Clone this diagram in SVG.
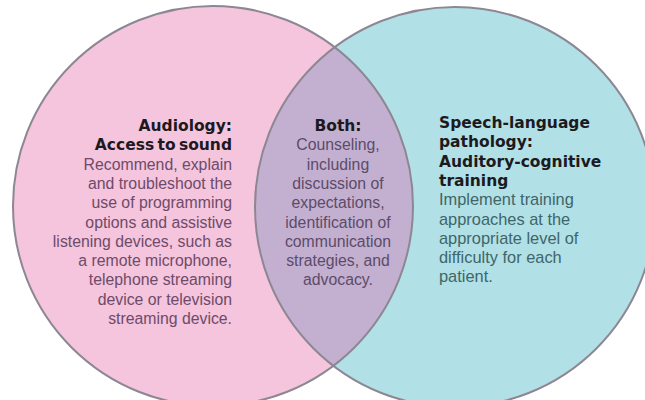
<svg xmlns="http://www.w3.org/2000/svg" width="645" height="400" viewBox="0 0 645 400">
  <style>
    .ring { fill: none; stroke: #8c8792; stroke-width: 2; }
    .head { font-family: "DejaVu Sans", "Liberation Sans", sans-serif; font-weight: bold; font-size: 15.5px; fill: #1c1a20; word-spacing: -2px; }
    .body { font-family: "Liberation Sans", Arial, sans-serif; font-size: 15.8px; }
    .left .body { fill: #6d4b69; }
    .mid .body { fill: #5c4b6a; }
    .right .body { fill: #3f6569; font-size: 16.4px; }
  </style>
  <defs>
    <clipPath id="leftDisc">
      <circle cx="213" cy="206" r="200"/>
    </clipPath>
  </defs>

  <rect width="645" height="400" fill="#ffffff"/>

  <!-- discs -->
  <g id="audiology-disc">
    <circle cx="213" cy="206" r="200" fill="#f5c4dd"/>
  </g>
  <g id="slp-disc">
    <circle cx="455" cy="207" r="200" fill="#b1e0e6"/>
  </g>
  <g id="overlap">
    <circle cx="455" cy="207" r="200" fill="#c3b0d0" clip-path="url(#leftDisc)"/>
  </g>

  <!-- outlines -->
  <g id="outlines">
    <circle class="ring" cx="213" cy="206" r="200"/>
    <circle class="ring" cx="455" cy="207" r="200"/>
  </g>

  <!-- Audiology -->
  <g id="audiology" class="left" text-anchor="end">
    <text class="head" x="232" y="131">Audiology:</text>
    <text class="head" x="232" y="150.3">Access to sound</text>
    <text class="body" x="232" y="169.6">Recommend, explain</text>
    <text class="body" x="232" y="188.9">and troubleshoot the</text>
    <text class="body" x="232" y="208.2">use of programming</text>
    <text class="body" x="232" y="227.5">options and assistive</text>
    <text class="body" x="232" y="246.8">listening devices, such as</text>
    <text class="body" x="232" y="266.1">a remote microphone,</text>
    <text class="body" x="232" y="285.4">telephone streaming</text>
    <text class="body" x="232" y="304.7">device or television</text>
    <text class="body" x="232" y="324">streaming device.</text>
  </g>

  <!-- Both -->
  <g id="both" class="mid" text-anchor="middle">
    <text class="head" x="338" y="131">Both:</text>
    <text class="body" x="338" y="150.3">Counseling,</text>
    <text class="body" x="338" y="169.6">including</text>
    <text class="body" x="338" y="188.9">discussion of</text>
    <text class="body" x="338" y="208.2">expectations,</text>
    <text class="body" x="338" y="227.5">identification of</text>
    <text class="body" x="338" y="246.8">communication</text>
    <text class="body" x="338" y="266.1">strategies, and</text>
    <text class="body" x="338" y="285.4">advocacy.</text>
  </g>

  <!-- Speech-language pathology -->
  <g id="slp" class="right">
    <text class="head" x="439" y="128">Speech-language</text>
    <text class="head" x="439" y="147.3">pathology:</text>
    <text class="head" x="439" y="166.6">Auditory-cognitive</text>
    <text class="head" x="439" y="185.9">training</text>
    <text class="body" x="439" y="205.2">Implement training</text>
    <text class="body" x="439" y="224.5">approaches at the</text>
    <text class="body" x="439" y="243.8">appropriate level of</text>
    <text class="body" x="439" y="263.1">difficulty for each</text>
    <text class="body" x="439" y="282.4">patient.</text>
  </g>
</svg>
